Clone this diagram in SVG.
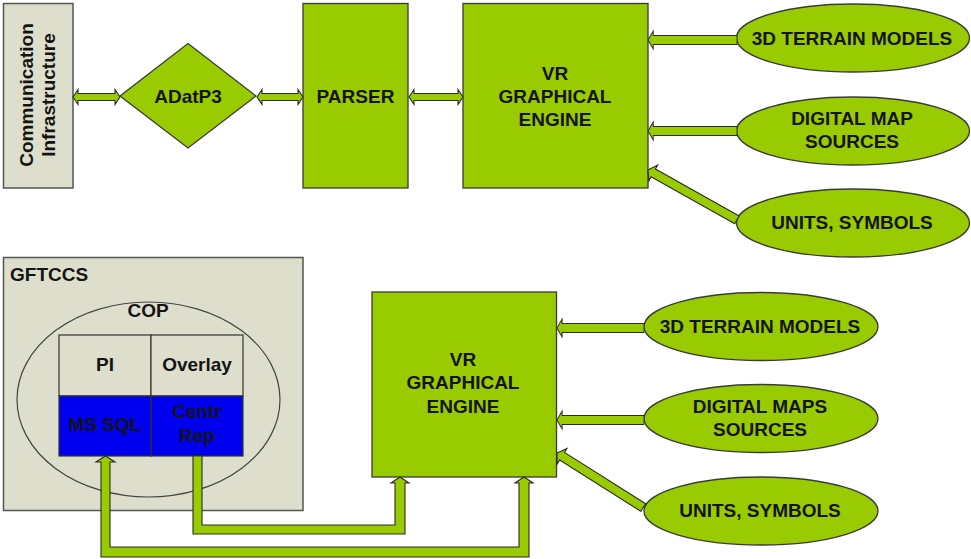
<svg xmlns="http://www.w3.org/2000/svg" width="971" height="559" viewBox="0 0 971 559">
  <style>
    .lbl { font-family: "Liberation Sans", Arial, sans-serif; font-weight: bold; font-size: 19px; fill: #141414; text-anchor: middle; }
    .lbl-l { text-anchor: start; }
    .green { fill: #99cc00; stroke: #3a3a3a; stroke-width: 1.3; }
    .gray { fill: #dddfcc; stroke: #555555; stroke-width: 1.5; }
    .arrow { fill: #99cc00; stroke: #2a2a2a; stroke-width: 1.1; stroke-linejoin: miter; }
    .cell { fill: #dddfcc; stroke: #333333; stroke-width: 1.2; }
    .db { fill: #0000ee; stroke: #333333; stroke-width: 1.2; }
  </style>
  <defs>
    <!-- left-pointing block arrow, tip at origin, 102 px long -->
    <polygon id="blockArrow" points="0,0 6,-9 6,-4.5 102,-4.5 102,4.5 6,4.5 6,9"/>
  </defs>

  <rect width="971" height="559" fill="#ffffff"/>

  <!-- ===== upper chain ===== -->
  <g id="comm-infra">
    <rect class="gray" x="3.5" y="3.5" width="69.5" height="184.5"/>
    <text class="lbl" transform="translate(33,95) rotate(-90)">Communication</text>
    <text class="lbl" transform="translate(55,95) rotate(-90)">Infrastructure</text>
  </g>

  <g id="adatp3">
    <polygon class="green" points="188,43.5 256,96 188,148 120,96"/>
    <text class="lbl" x="188" y="103">ADatP3</text>
  </g>

  <g id="parser">
    <rect class="green" x="303" y="3.5" width="105" height="184.5"/>
    <text class="lbl" x="355.5" y="103">PARSER</text>
  </g>

  <g id="vr-engine-top">
    <rect class="green" x="463" y="3.5" width="185" height="184.5"/>
    <text class="lbl" x="555" y="80">VR</text>
    <text class="lbl" x="555" y="103">GRAPHICAL</text>
    <text class="lbl" x="555" y="126">ENGINE</text>
  </g>

  <g id="terrain-top">
    <ellipse class="green" cx="853" cy="38" rx="116.5" ry="34"/>
    <text class="lbl" x="852" y="45">3D TERRAIN MODELS</text>
  </g>
  <g id="maps-top">
    <ellipse class="green" cx="853" cy="131" rx="116.5" ry="34"/>
    <text class="lbl" x="852" y="125">DIGITAL MAP</text>
    <text class="lbl" x="852" y="148">SOURCES</text>
  </g>
  <g id="units-top">
    <ellipse class="green" cx="853" cy="223" rx="116.5" ry="34"/>
    <text class="lbl" x="852" y="229">UNITS, SYMBOLS</text>
  </g>

  <!-- ===== lower system ===== -->
  <g id="gftccs">
    <rect class="gray" x="3.5" y="257.5" width="299.5" height="253"/>
    <text class="lbl lbl-l" x="10" y="281">GFTCCS</text>
  </g>

  <g id="cop">
    <ellipse cx="148.5" cy="399.5" rx="131.5" ry="97.5" fill="none" stroke="#444444" stroke-width="1.2"/>
    <text class="lbl" x="148" y="317">COP</text>
    <rect class="cell" x="59" y="335" width="92" height="61"/>
    <rect class="cell" x="151" y="335" width="92" height="61"/>
    <rect class="db" x="59" y="396" width="92" height="60"/>
    <rect class="db" x="151" y="396" width="92" height="60"/>
    <text class="lbl" x="105" y="371">PI</text>
    <text class="lbl" x="197" y="371">Overlay</text>
    <text class="lbl" x="105" y="431">MS SQL</text>
    <text class="lbl" x="197" y="418">Centr</text>
    <text class="lbl" x="197" y="442">Rep</text>
  </g>

  <g id="vr-engine-bottom">
    <rect class="green" x="372" y="292" width="184.5" height="185"/>
    <text class="lbl" x="463" y="366">VR</text>
    <text class="lbl" x="463" y="389">GRAPHICAL</text>
    <text class="lbl" x="463" y="413">ENGINE</text>
  </g>

  <g id="terrain-bottom">
    <ellipse class="green" cx="761" cy="326.5" rx="117" ry="34"/>
    <text class="lbl" x="760" y="333">3D TERRAIN MODELS</text>
  </g>
  <g id="maps-bottom">
    <ellipse class="green" cx="761" cy="418.5" rx="117" ry="34"/>
    <text class="lbl" x="760" y="413">DIGITAL MAPS</text>
    <text class="lbl" x="760" y="436">SOURCES</text>
  </g>
  <g id="units-bottom">
    <ellipse class="green" cx="761" cy="511" rx="117" ry="34"/>
    <text class="lbl" x="760" y="517">UNITS, SYMBOLS</text>
  </g>

  <!-- ===== connectors ===== -->
  <g id="connectors">
    <!-- two-way links along the upper chain -->
    <polygon class="arrow" points="73,97 78,89.5 78,93.5 115,93.5 115,89.5 120,97 115,104.5 115,100.5 78,100.5 78,104.5"/>
    <polygon class="arrow" points="257,97 262,89.5 262,93.5 298,93.5 298,89.5 303,97 298,104.5 298,100.5 262,100.5 262,104.5"/>
    <polygon class="arrow" points="409,97 414,89.5 414,93.5 458,93.5 458,89.5 463,97 458,104.5 458,100.5 414,100.5 414,104.5"/>

    <!-- data sources into the upper engine -->
    <use href="#blockArrow" class="arrow" transform="translate(648,40) scale(0.873,1)"/>
    <use href="#blockArrow" class="arrow" transform="translate(648,131) scale(0.873,1)"/>
    <use href="#blockArrow" class="arrow" transform="translate(648,170) rotate(29.3)"/>

    <!-- data sources into the lower engine -->
    <use href="#blockArrow" class="arrow" transform="translate(557,328) scale(0.853,1)"/>
    <use href="#blockArrow" class="arrow" transform="translate(557,420) scale(0.853,1)"/>
    <use href="#blockArrow" class="arrow" transform="translate(557,453) rotate(32.3)"/>

    <!-- Centr Rep feed to the lower engine -->
    <polygon class="arrow" points="193,456 202,456 202,525 395,525 395,483 391,483 400,477 409,483 405,483 405,534 193,534"/>
    <!-- engine link back to MS SQL -->
    <polygon class="arrow" points="105.5,456 115,462 110,462 110,547 519,547 519,483 515,483 524,477 533,483 529,483 529,557 101,557 101,462 96,462"/>
  </g>
</svg>
